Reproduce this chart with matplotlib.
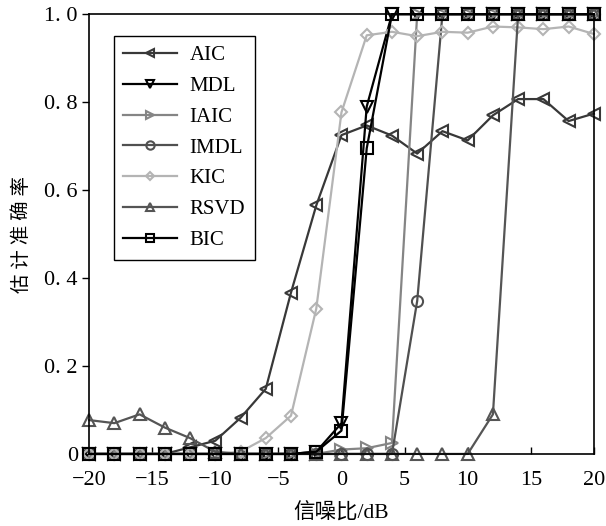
import matplotlib
matplotlib.use("Agg")
import matplotlib.pyplot as plt
from matplotlib.ticker import FuncFormatter, FixedLocator

snr = [-20, -18, -16, -14, -12, -10, -8, -6, -4, -2, 0, 2, 4, 6, 8, 10, 12, 14, 16, 18, 20]

aic  = [0, 0, 0, 0, 0.015, 0.03, 0.082, 0.148, 0.367, 0.565, 0.725, 0.747, 0.724, 0.683, 0.734, 0.713, 0.77, 0.807, 0.807, 0.757, 0.774]
mdl  = [0, 0, 0, 0, 0, 0, 0, 0, 0, 0.005, 0.07, 0.79, 1, 1, 1, 1, 1, 1, 1, 1, 1]
iaic = [0, 0, 0, 0, 0, 0, 0, 0, 0, 0, 0.01, 0.013, 0.025, 1, 1, 1, 1, 1, 1, 1, 1]
imdl = [0, 0, 0, 0, 0, 0, 0, 0, 0, 0, 0, 0, 0, 0.348, 1, 1, 1, 1, 1, 1, 1]
kic  = [0, 0, 0, 0, 0, 0, 0.005, 0.036, 0.087, 0.33, 0.777, 0.952, 0.96, 0.95, 0.96, 0.958, 0.972, 0.97, 0.966, 0.972, 0.955]
rsvd = [0.077, 0.07, 0.09, 0.06, 0.036, 0.005, 0, 0, 0, 0, 0, 0, 0, 0, 0, 0, 0.09, 1, 1, 1, 1]
bic  = [0, 0, 0, 0, 0, 0, 0, 0, 0, 0.005, 0.053, 0.695, 1, 1, 1, 1, 1, 1, 1, 1, 1]

labels = ["AIC", "MDL", "IAIC", "IMDL", "KIC", "RSVD", "BIC"]
xticks = [-20, -15, -10, -5, 0, 5, 10, 15, 20]
yticks = [0, 0.2, 0.4, 0.6, 0.8, 1.0]

plt.rcParams['font.family'] = ['Liberation Serif', 'Noto Sans CJK SC']
plt.rcParams['axes.unicode_minus'] = True

fig = plt.figure(figsize=(6.06, 5.26), dpi=100)
ax = fig.add_axes([0.147, 0.137, 0.833, 0.836])

series = [aic, mdl, iaic, imdl, kic, rsvd, bic]
styles = [
    dict(color="#383838", marker="<"),
    dict(color="#000000", marker="v"),
    dict(color="#858585", marker=">"),
    dict(color="#505050", marker="o"),
    dict(color="#b4b4b4", marker="D", markersize=6),
    dict(color="#555555", marker="^"),
    dict(color="#000000", marker="s"),
]
for ys, lab, st in zip(series, labels, styles):
    kw = dict(linewidth=1.6, markersize=8, markerfacecolor="none",
              markeredgewidth=1.5, clip_on=False)
    kw.update(st)
    ax.plot(snr, ys, label=lab, **kw)

ax.set_xlim(-20, 20)
ax.set_ylim(0, 1)
ax.xaxis.set_major_locator(FixedLocator(xticks))
ax.yaxis.set_major_locator(FixedLocator(yticks))

def yfmt(v, pos):
    if abs(v) < 1e-9:
        return "0"
    return f"{v:.1f}".replace(".", ". ")

def xfmt(v, pos):
    return f"{int(v)}".replace("-", "\u2212")

ax.yaxis.set_major_formatter(FuncFormatter(yfmt))
ax.xaxis.set_major_formatter(FuncFormatter(xfmt))
ax.tick_params(axis='y', direction='out', length=5, width=1, labelsize=16, pad=3)
ax.tick_params(axis='x', direction='in', length=5, width=1, labelsize=16, pad=12)
for sp in ax.spines.values():
    sp.set_linewidth(1.2)

ax.set_xlabel("信噪比/dB", fontsize=15.5, labelpad=10)
ax.set_ylabel("估 计 准 确 率", fontsize=14, labelpad=10)

leg = ax.legend(loc="upper left", bbox_to_anchor=(0.0485, 0.95), borderaxespad=0,
                fontsize=15, frameon=True, fancybox=False, edgecolor="black",
                framealpha=1, handlelength=2.6, labelspacing=0.54, borderpad=0.45,
                handletextpad=0.6, markerscale=0.75)
leg.get_frame().set_linewidth(1.0)

fig.savefig("out.png", dpi=100)
